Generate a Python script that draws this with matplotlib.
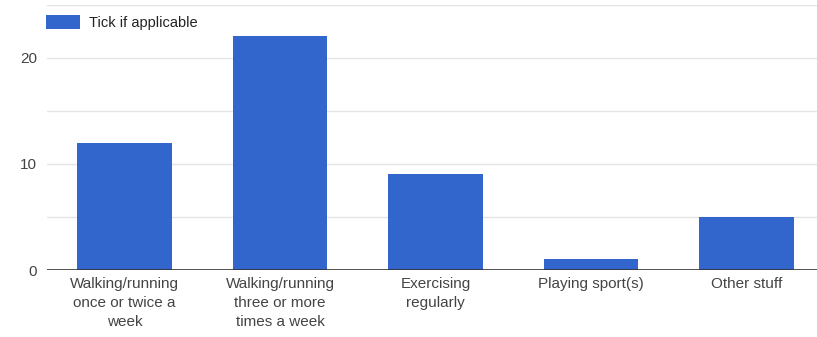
import matplotlib
matplotlib.use("Agg")
import matplotlib.pyplot as plt

categories = ["Walking/running\nonce or twice a\nweek",
              "Walking/running\nthree or more\ntimes a week",
              "Exercising\nregularly",
              "Playing sport(s)",
              "Other stuff"]
values = [12, 22, 9, 1, 5]
series_name = "Tick if applicable"
yticks = [0, 10, 20]

plt.rcParams['font.family'] = ['Liberation Sans', 'DejaVu Sans']

fig = plt.figure(figsize=(8.17, 3.37), dpi=100)
ax = fig.add_axes([46.75/817, (337-270)/337, 1 - 46.75/817, (270-4.5)/337])

x = list(range(len(values)))
ax.bar(x, values, width=0.61, color="#3366cc", label=series_name, zorder=3)
ax.set_xlim(-0.5, 4.453)
ax.set_ylim(0, 25)

for g in [5, 10, 15, 20, 25]:
    ax.axhline(g, color="#e4e4e4", lw=1, zorder=1)
ax.axhline(0, color="#333333", lw=1.2, zorder=4)

ax.set_yticks(yticks)
ax.set_yticklabels([str(t) for t in yticks])
ax.set_xticks(x)
ax.set_xticklabels(categories, linespacing=1.45)
ax.tick_params(axis='both', length=0, labelsize=11, labelcolor="#444444")
ax.tick_params(axis='y', pad=7)
ax.tick_params(axis='x', pad=5)
for s in ax.spines.values():
    s.set_visible(False)

leg = ax.legend(loc="upper left", bbox_to_anchor=(39/817, 1 - 8/337),
                bbox_transform=fig.transFigure, frameon=False, borderpad=0,
                handlelength=2.3, handleheight=1.1, handletextpad=0.6,
                fontsize=10.5, labelcolor="#222222")

fig.savefig("out.png", dpi=100)
